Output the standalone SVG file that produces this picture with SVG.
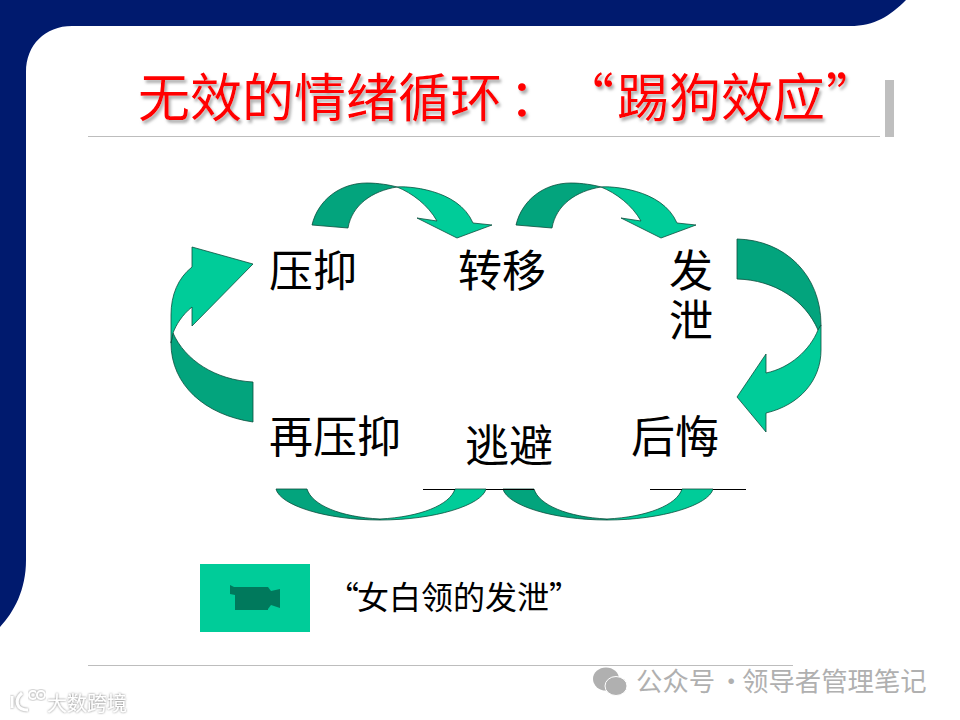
<svg xmlns="http://www.w3.org/2000/svg" width="960" height="720" viewBox="0 0 960 720">
<style>
.cjk{font-family:"Noto Sans CJK SC","Liberation Sans",sans-serif}
.lbl{font-size:44px;fill:#000}
.title{font-size:52px;fill:#f00}
.d{fill:#03A47D;stroke:#0b4f3d;stroke-width:.8}
.l{fill:#00CC99;stroke:#0b4f3d;stroke-width:.8}
.rule{stroke:#bdbdbd;stroke-width:1}
</style>
<defs>
<filter id="sh" x="-5%" y="-20%" width="110%" height="140%"><feDropShadow dx="2" dy="3" stdDeviation="1.5" flood-color="#999" flood-opacity=".8"/></filter>
<filter id="wm" x="-10%" y="-20%" width="120%" height="140%"><feDropShadow dx="0" dy="0" stdDeviation="1.2" flood-color="#777" flood-opacity="1"/></filter>
<g id="arcTop">
<path class="d" d="M312,225C318,200 340,183 367,183C378,183 390,185 397,187C372,191 352,205 348,228Z"/>
<path class="l" d="M397,187C405,186 458,188 473,223L492,225L457,238L417,218L437,221C428,205 412,193 397,187Z"/>
</g>
<g id="arcBot">
<path class="d" d="M276,489C280,505 325,520 380,520L380,519C340,517 312,505 307,489Z"/>
<path class="l" d="M380,519C420,517 450,505 455,489L486,489C482,505 435,520 380,520Z"/>
</g>
</defs>
<rect width="960" height="720" fill="#fff"/>
<g id="background">
<path fill="#001A6E" d="M0,0H906C890,16 875,26 850,26H72C45,26 26,45 26,72V560C26,590 14,612 0,627Z"/>
<path class="rule" fill="none" d="M88,136.500H880M88,665.500H793"/>
<rect x="885" y="80" width="9" height="57" fill="#bfbfbf"/>
</g>
<text id="title" class="cjk title" y="117" filter="url(#sh)" lang="zh-CN"><tspan x="138">无效的情绪循环</tspan><tspan x="509">：</tspan><tspan x="562">“</tspan><tspan x="617">踢狗效应</tspan><tspan x="826">”</tspan></text>
<g id="connectors">
<use href="#arcTop"/>
<use href="#arcTop" x="204"/>
<g id="arrow-right">
<path class="d" d="M737,239C785,240 821,275 821,325L818,330C805,300 775,280 737,279Z"/>
<path class="l" d="M818,330C810,350 790,368 766,373V354L737,397L766,432V413C800,405 821,380 821,350V325Z"/>
</g>
<g id="arrow-left">
<path class="d" d="M253,422C205,415 171,385 171,343L173,333C185,360 215,380 253,382Z"/>
<path class="l" d="M173,333C176,325 182,315 192,307V326L253,264L192,247V267C178,278 171,295 171,315V343Z"/>
</g>
<use href="#arcBot"/>
<use href="#arcBot" x="227"/>
<path fill="none" stroke="#000" stroke-width="1" d="M423,489.500H455M486,489.500H534M650,489.500H682M713,489.500H746"/>
</g>
<g id="node-yayi"><text class="cjk lbl" x="269" y="287">压抑</text></g>
<g id="node-zhuanyi"><text class="cjk lbl" x="458" y="287">转移</text></g>
<g id="node-faxie"><text class="cjk lbl"><tspan x="669" y="287">发</tspan><tspan x="669" y="337">泄</tspan></text></g>
<g id="node-zaiyayi"><text class="cjk lbl" x="269" y="453">再压抑</text></g>
<g id="node-taobi"><text class="cjk lbl" x="465" y="462">逃避</text></g>
<g id="node-houhui"><text class="cjk lbl" x="631" y="453">后悔</text></g>
<g id="video">
<rect x="200" y="564" width="110" height="68" fill="#00CC99"/>
<path fill="#00795C" d="M230,585L234,587H268L271,591L280,589V608L271,605L268,609V610H235V595L230,594Z"/>
</g>
<text id="caption" class="cjk" font-size="32" y="609" lang="zh-CN"><tspan x="327">“</tspan><tspan x="357">女白领的发泄</tspan><tspan x="549">”</tspan></text>
<g id="watermark-right">
<ellipse cx="606" cy="679" rx="13" ry="11.500" fill="#b0b0b0"/>
<ellipse cx="616" cy="686" rx="11" ry="9.500" fill="#b0b0b0" stroke="#fff"/>
<text class="cjk" font-size="26.400" fill="#b0b0b0" y="691"><tspan x="636">公众号</tspan><tspan x="718">·</tspan><tspan x="742">领导者管理笔记</tspan></text>
</g>
<g id="watermark-left">
<path fill="none" stroke="#fff" stroke-width="3" filter="url(#wm)" d="M12,696V708M22,693C14,700 16,710 28,710"/>
<circle cx="33" cy="695" r="4" fill="none" stroke="#fff" stroke-width="2" filter="url(#wm)"/>
<circle cx="41" cy="695" r="4" fill="none" stroke="#fff" stroke-width="2" filter="url(#wm)"/>
<text class="cjk" font-size="20" fill="#fff" x="47" y="711" filter="url(#wm)">大数跨境</text>
</g>
</svg>
